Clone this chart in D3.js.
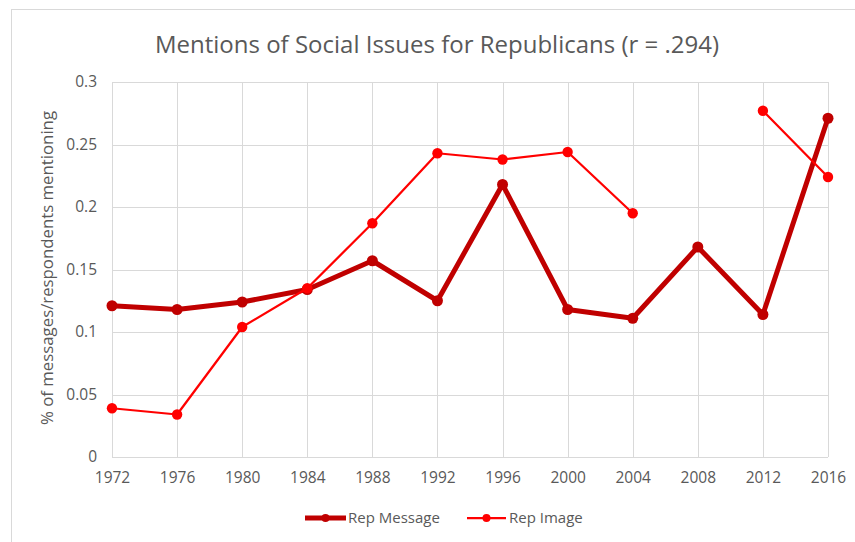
<!DOCTYPE html>
<html>
<head>
<meta charset="utf-8">
<script src="https://cdn.jsdelivr.net/npm/d3@7"></script>
<style>
  html, body { margin: 0; padding: 0; background: #fff; }
  svg { display: block; }
  text { font-family: "Open Sans", "Noto Sans", sans-serif; fill: #595959; }
</style>
</head>
<body>
<svg id="chart" width="855" height="542"></svg>
<script>
// Election years on the category axis
const years = ["1972","1976","1980","1984","1988","1992","1996","2000","2004","2008","2012","2016"];
// Share of campaign messages mentioning social issues
const repMessage = [0.121, 0.118, 0.124, 0.134, 0.157, 0.125, 0.218, 0.118, 0.111, 0.168, 0.114, 0.271];
// Share of survey respondents mentioning social issues (no data for 2008)
const repImage = [0.039, 0.034, 0.104, 0.135, 0.187, 0.243, 0.238, 0.244, 0.195, null, 0.277, 0.224];
const yTicks = [0, 0.05, 0.1, 0.15, 0.2, 0.25, 0.3];
const yTickLabels = ["0", "0.05", "0.1", "0.15", "0.2", "0.25", "0.3"];

const W = 855, H = 542;
const plot = { left: 112, right: 828, top: 82, bottom: 457 };

const svg = d3.select("#chart");

// Outer chart frame
svg.append("rect")
  .attr("x", 11.5).attr("y", 9.5)
  .attr("width", W + 10).attr("height", H + 10)
  .attr("fill", "#fff").attr("stroke", "#d9d9d9").attr("stroke-width", 1);

const x = d3.scalePoint().domain(years).range([plot.left, plot.right]);
const y = d3.scaleLinear().domain([0, 0.3]).range([plot.bottom, plot.top]);

// Gridlines
const grid = svg.append("g");
grid.selectAll("line.h").data(yTicks).join("line")
  .attr("x1", plot.left).attr("x2", plot.right)
  .attr("y1", d => Math.round(y(d)) + 0.5).attr("y2", d => Math.round(y(d)) + 0.5)
  .attr("stroke", "#d9d9d9").attr("stroke-width", 1);
grid.selectAll("line.v").data(years).join("line")
  .attr("x1", d => Math.round(x(d)) + 0.5).attr("x2", d => Math.round(x(d)) + 0.5)
  .attr("y1", plot.top).attr("y2", plot.bottom)
  .attr("stroke", "#d9d9d9").attr("stroke-width", 1);

// Y axis labels
const yAxis = d3.axisLeft(y).tickValues(yTicks)
  .tickFormat((d, i) => yTickLabels[i]).tickSize(0).tickPadding(15);
svg.append("g").attr("transform", `translate(${plot.left},0)`).call(yAxis)
  .call(g => g.select(".domain").remove())
  .call(g => g.selectAll("text").attr("font-size", 15.5).attr("fill", "#595959")
    .style("font-family", '"Open Sans", sans-serif'));

// X axis labels
const xAxis = d3.axisBottom(x).tickSize(0).tickPadding(15);
svg.append("g").attr("transform", `translate(0,${plot.bottom})`).call(xAxis)
  .call(g => g.select(".domain").remove())
  .call(g => g.selectAll("text").attr("font-size", 15.5).attr("fill", "#595959")
    .style("font-family", '"Open Sans", sans-serif'));

// Title
svg.append("text")
  .attr("x", 437).attr("y", 53)
  .attr("text-anchor", "middle")
  .attr("font-size", 24)
  .text("Mentions of Social Issues for Republicans (r = .294)");

// Y axis title
svg.append("text")
  .attr("transform", "translate(53,268) rotate(-90)")
  .attr("text-anchor", "middle")
  .attr("font-size", 16.8)
  .text("% of messages/respondents mentioning");

const series = [
  { name: "Rep Message", values: repMessage, color: "#c00000", width: 5, r: 5.5 },
  { name: "Rep Image", values: repImage, color: "#ff0000", width: 2.25, r: 5.2 }
];

const line = d3.line()
  .defined(d => d.v !== null)
  .x(d => x(d.year))
  .y(d => y(d.v));

series.forEach(s => {
  const pts = years.map((yr, i) => ({ year: yr, v: s.values[i] }));
  svg.append("path")
    .datum(pts)
    .attr("d", line)
    .attr("fill", "none")
    .attr("stroke", s.color)
    .attr("stroke-width", s.width)
    .attr("stroke-linejoin", "round");
  svg.append("g").selectAll("circle")
    .data(pts.filter(d => d.v !== null))
    .join("circle")
    .attr("cx", d => x(d.year))
    .attr("cy", d => y(d.v))
    .attr("r", s.r)
    .attr("fill", s.color);
});

// Legend
const legendItems = [
  { s: series[0], x0: 305, x1: 346, tx: 348 },
  { s: series[1], x0: 467, x1: 506, tx: 509 }
];
const ly = 518;
legendItems.forEach(it => {
  svg.append("line")
    .attr("x1", it.x0).attr("x2", it.x1).attr("y1", ly).attr("y2", ly)
    .attr("stroke", it.s.color).attr("stroke-width", it.s.width);
  svg.append("circle")
    .attr("cx", (it.x0 + it.x1) / 2).attr("cy", ly).attr("r", 4)
    .attr("fill", it.s.color);
  svg.append("text")
    .attr("x", it.tx).attr("y", ly + 5)
    .attr("font-size", 15)
    .text(it.s.name);
});
</script>
</body>
</html>
